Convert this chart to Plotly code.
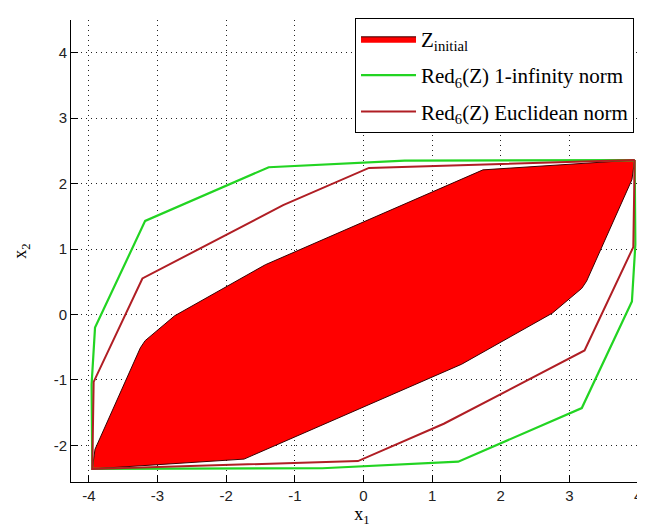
import plotly.graph_objects as go

# Z_initial polygon vertices (closed)
z_x = [3.95, 1.74, -1.43, -2.75, -3.18, -3.25, -3.91, -3.95,
       -1.74, 1.43, 2.75, 3.18, 3.25, 3.91, 3.95]
z_y = [2.36, 2.21, 0.76, -0.02, -0.40, -0.51, -2.06, -2.36,
       -2.21, -0.76, 0.02, 0.40, 0.51, 2.06, 2.36]

# Red_6(Z) 1-infinity norm
g_x = [3.95, 0.60, -1.38, -3.18, -3.91, -3.96, -3.95,
       -0.60, 1.38, 3.18, 3.91, 3.96, 3.95]
g_y = [2.36, 2.35, 2.25, 1.43, -0.20, -1.07, -2.36,
       -2.35, -2.25, -1.43, 0.20, 1.07, 2.36]

# Red_6(Z) Euclidean norm
e_x = [3.95, 0.08, -1.17, -3.22, -3.93, -3.95,
       -0.08, 1.17, 3.22, 3.93, 3.95]
e_y = [2.36, 2.24, 1.67, 0.55, -1.03, -2.36,
       -2.24, -1.67, -0.55, 1.03, 2.36]

x_ticks = [-4, -3, -2, -1, 0, 1, 2, 3, 4]
y_ticks = [-2, -1, 0, 1, 2, 3, 4]

fig = go.Figure()
fig.add_trace(go.Scatter(x=z_x, y=z_y, mode="lines", fill="toself",
                         fillcolor="#FF0000", line=dict(color="#3A0000", width=1),
                         name="Z<sub>initial</sub>", legendgroup="a"))
fig.add_trace(go.Scatter(x=g_x, y=g_y, mode="lines",
                         line=dict(color="#22D422", width=2.2),
                         name="Red<sub>6</sub>(Z) 1-infinity norm", legendgroup="b"))
fig.add_trace(go.Scatter(x=e_x, y=e_y, mode="lines",
                         line=dict(color="#B01E24", width=2),
                         name="Red<sub>6</sub>(Z) Euclidean norm", legendgroup="c"))

axis_common = dict(
    showline=True, linecolor="black", linewidth=1, mirror=False,
    ticks="inside", ticklen=7, tickcolor="black", tickwidth=1,
    showgrid=True, gridcolor="#222222", griddash="1px,4px", gridwidth=1,
    zeroline=False,
    tickfont=dict(family="Liberation Sans", size=15, color="#222222"),
)

fig.update_xaxes(range=[-4.26, 4.217], tickvals=x_ticks, ticktext=[str(v) for v in x_ticks],
                 title=dict(text="x<sub>1</sub>", font=dict(family="Liberation Serif", size=18, color="black"),
                            standoff=4),
                 **axis_common)
fig.update_yaxes(range=[-2.56, 4.5], tickvals=y_ticks, ticktext=[str(v) for v in y_ticks],
                 title=dict(text="x<sub>2</sub>", font=dict(family="Liberation Serif", size=18, color="black"),
                            standoff=22),
                 **axis_common)

fig.update_layout(
    width=645, height=529,
    margin=dict(l=63, r=0, t=12, b=55),
    paper_bgcolor="white", plot_bgcolor="white",
    showlegend=True,
    legend=dict(x=0.488, y=1.005, xanchor="left", yanchor="top",
                bgcolor="white", bordercolor="black", borderwidth=1,
                font=dict(family="Liberation Serif", size=21, color="black"),
                itemwidth=55, tracegroupgap=6, traceorder="grouped"),
)

fig.write_html("out.html")
